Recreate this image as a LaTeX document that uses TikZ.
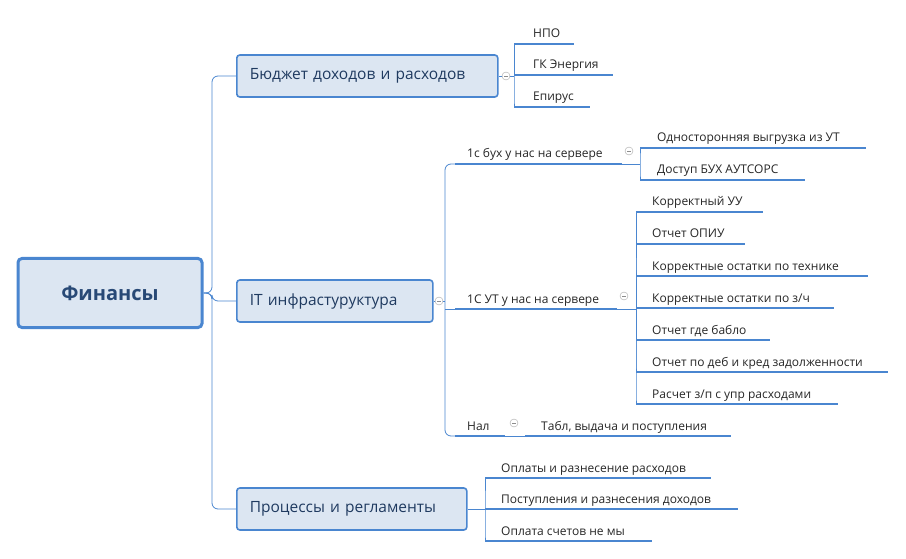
\documentclass[tikz,border=0pt]{standalone}
\usepackage{fontspec}
\setmainfont{Open Sans}
\definecolor{mapline}{HTML}{4A86D0}
\definecolor{mapfill}{HTML}{DCE6F2}
\definecolor{maptext}{HTML}{1F3A60}
\tikzset{
  rootbox/.style={draw=mapline, line width=3pt, fill=mapfill, rounded corners=4pt,
    minimum width=184pt, minimum height=69pt, font=\fontsize{20}{24}\selectfont\bfseries, text=maptext!80!mapline},
  branchbox/.style={draw=mapline, line width=1.6pt, fill=mapfill, rounded corners=3pt,
    minimum height=42pt, anchor=west, inner xsep=13pt, align=left, font=\fontsize{15.5}{18}\selectfont, text=maptext},
  leaftext/.style={anchor=base west, inner sep=0pt, font=\fontsize{12}{14}\selectfont, text=black!85},
  link/.style={mapline, line width=0.8pt, rounded corners=6pt},
  under/.style={mapline, line width=2pt},
  fold/.style={circle, draw=black!35, fill=white, inner sep=0pt, minimum size=8pt,
    path picture={\draw[black!45] ([xshift=-2pt]path picture bounding box.center) -- ([xshift=2pt]path picture bounding box.center);}}
}
% leaf: name, line start x, line y, text x, line end x, text
\newcommand{\leaf}[6]{%
  \node[leaftext] (#1) at (#4,#3-6) {#6};
  \coordinate (#1l) at (#2,#3);
  \draw[under] (#1l) -- (#5,#3);}
\begin{document}
\begin{tikzpicture}[x=1pt,y=-1pt]
\useasboundingbox (0,0) rectangle (906,559);

% root and branches
\node[rootbox] (fin) at (110,293) {Финансы};
\node[branchbox, text width=235pt] (bud) at (236,76) {Бюджет доходов и расходов};
\node[branchbox, text width=170pt] (it) at (236,301) {IT инфрастуруктура};
\node[branchbox, text width=204pt] (proc) at (236,509) {Процессы и регламенты};

\draw[link] (fin.east) -- (212,293) |- (bud.west);
\draw[link] (fin.east) -- (212,293) |- (it.west);
\draw[link] (fin.east) -- (212,293) |- (proc.west);

% budget
\leaf{npo}{514}{44}{533}{574}{НПО}
\leaf{gk}{514}{75}{533}{613}{ГК Энергия}
\leaf{ep}{514}{107}{533}{590}{Епирус}
\draw[link] (bud.east) -- (514,76);
\draw[link] (npol) -- (514,75) (514,44) |- (epl);
\node[fold] (fbud) at (506,76) {};

% IT
\leaf{buh}{455}{164}{467}{622}{1с бух у нас на сервере}
\leaf{ut}{455}{309}{467}{617}{1С УТ у нас на сервере}
\leaf{nal}{455}{436}{467}{505}{Нал}
\draw[link] (it.east) -- (445,301);
\draw[link] (buhl) -| (445,309) |- (nall);
\draw[link] (445,309) -- (utl);
\node[fold] (fit) at (439,301) {};

% 1c buh
\leaf{vyg}{640}{148}{657}{866}{Односторонняя выгрузка из УТ}
\leaf{aut}{640}{180}{657}{805}{Доступ БУХ АУТСОРС}
\draw[link] (622,164) -- (640,164);
\draw[link] (vygl) -- (640,164) |- (autl);
\node[fold] (fbuh) at (629,151) {};

% 1C UT
\leaf{uu}{636}{212}{652}{763}{Корректный УУ}
\leaf{opiu}{636}{244}{652}{745}{Отчет ОПИУ}
\leaf{teh}{636}{276}{652}{868}{Корректные остатки по технике}
\leaf{zch}{636}{308}{652}{834}{Корректные остатки по з/ч}
\leaf{bab}{636}{340}{652}{770}{Отчет где бабло}
\leaf{deb}{636}{372}{652}{888}{Отчет по деб и кред задолженности}
\leaf{zp}{636}{404}{652}{838}{Расчет з/п с упр расходами}
\draw[link] (617,309) -- (636,309);
\draw[link] (uul) -- (636,309) |- (zpl);
\foreach \n in {opiu,teh,zch,bab,deb}
  \draw[link] (636,309) |- (\n l);
\node[fold] (fut) at (624,296) {};

% nal
\leaf{tabl}{525}{436}{541}{731}{Табл, выдача и поступления}
\draw[link] (505,436) -- (tabll);
\node[fold] (fnal) at (514,423) {};

% processes
\leaf{opl}{485}{478}{501}{711}{Оплаты и разнесение расходов}
\leaf{post}{485}{509}{501}{738}{Поступления и разнесения доходов}
\leaf{sch}{485}{541}{501}{652}{Оплата счетов не мы}
\draw[link] (proc.east) -- (485,509);
\draw[link] (opll) -- (485,509) |- (schl);

\end{tikzpicture}
\end{document}
